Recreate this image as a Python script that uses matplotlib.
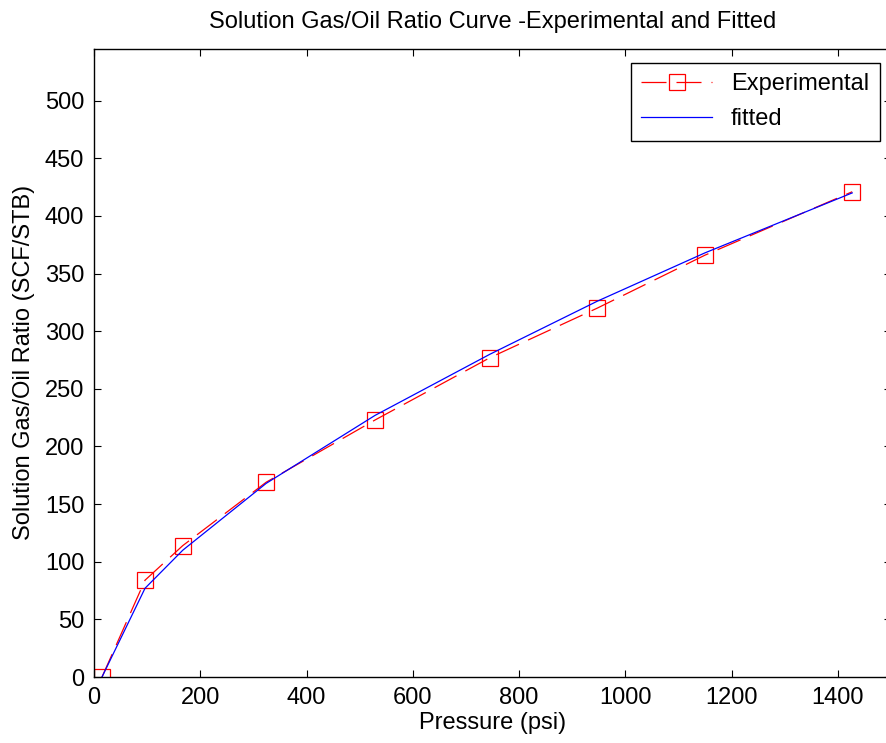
import numpy as np
import matplotlib.pyplot as plt

plt.rcParams['font.family'] = ['Liberation Sans', 'DejaVu Sans']

pressure = [15, 96, 167, 324, 529, 745, 947, 1150, 1427]          # psi
rs_exp = [0, 84, 114, 169, 223, 277, 320, 366, 421]               # SCF/STB
# fitted curve values at the same pressures
rs_fit = [0, 77, 110, 168, 227, 280, 326, 368, 420]

fig = plt.figure(figsize=(8.87, 7.43), dpi=100)
ax = fig.add_axes([0.106, 0.0888, 0.8985, 0.8455])

ax.plot(pressure, rs_exp, color='red', linestyle='--', dashes=(20, 8), linewidth=0.9,
        marker='s', markersize=11, markerfacecolor='none', markeredgecolor='red',
        markeredgewidth=0.9, label='Experimental')
ax.plot(pressure, rs_fit, color='blue', linewidth=0.9, label='fitted')

ax.set_xlim(0, 1500)
ax.set_ylim(0, 545)
ax.set_xticks(np.arange(0, 1401, 200))
ax.set_yticks(np.arange(0, 501, 50))

ax.tick_params(direction='in', top=True, right=True, length=5, width=0.8,
               labelsize=17, pad=7)
for s in ax.spines.values():
    s.set_linewidth(1.0)
# the right edge of the box falls outside the picture in the original
ax.spines['right'].set_visible(False)

ax.set_title('Solution Gas/Oil Ratio Curve -Experimental and Fitted', fontsize=17, pad=15)
ax.set_xlabel('Pressure (psi)', fontsize=17, labelpad=2)
ax.set_ylabel('Solution Gas/Oil Ratio (SCF/STB)', fontsize=17, labelpad=7)

leg = ax.legend(loc='upper right', bbox_to_anchor=(0.986, 0.978), borderaxespad=0,
                fontsize=17, fancybox=False, edgecolor='black', framealpha=1,
                handlelength=3.0, borderpad=0.45, labelspacing=0.55)
leg.get_frame().set_linewidth(1.0)

fig.savefig('out.png', dpi=100)
